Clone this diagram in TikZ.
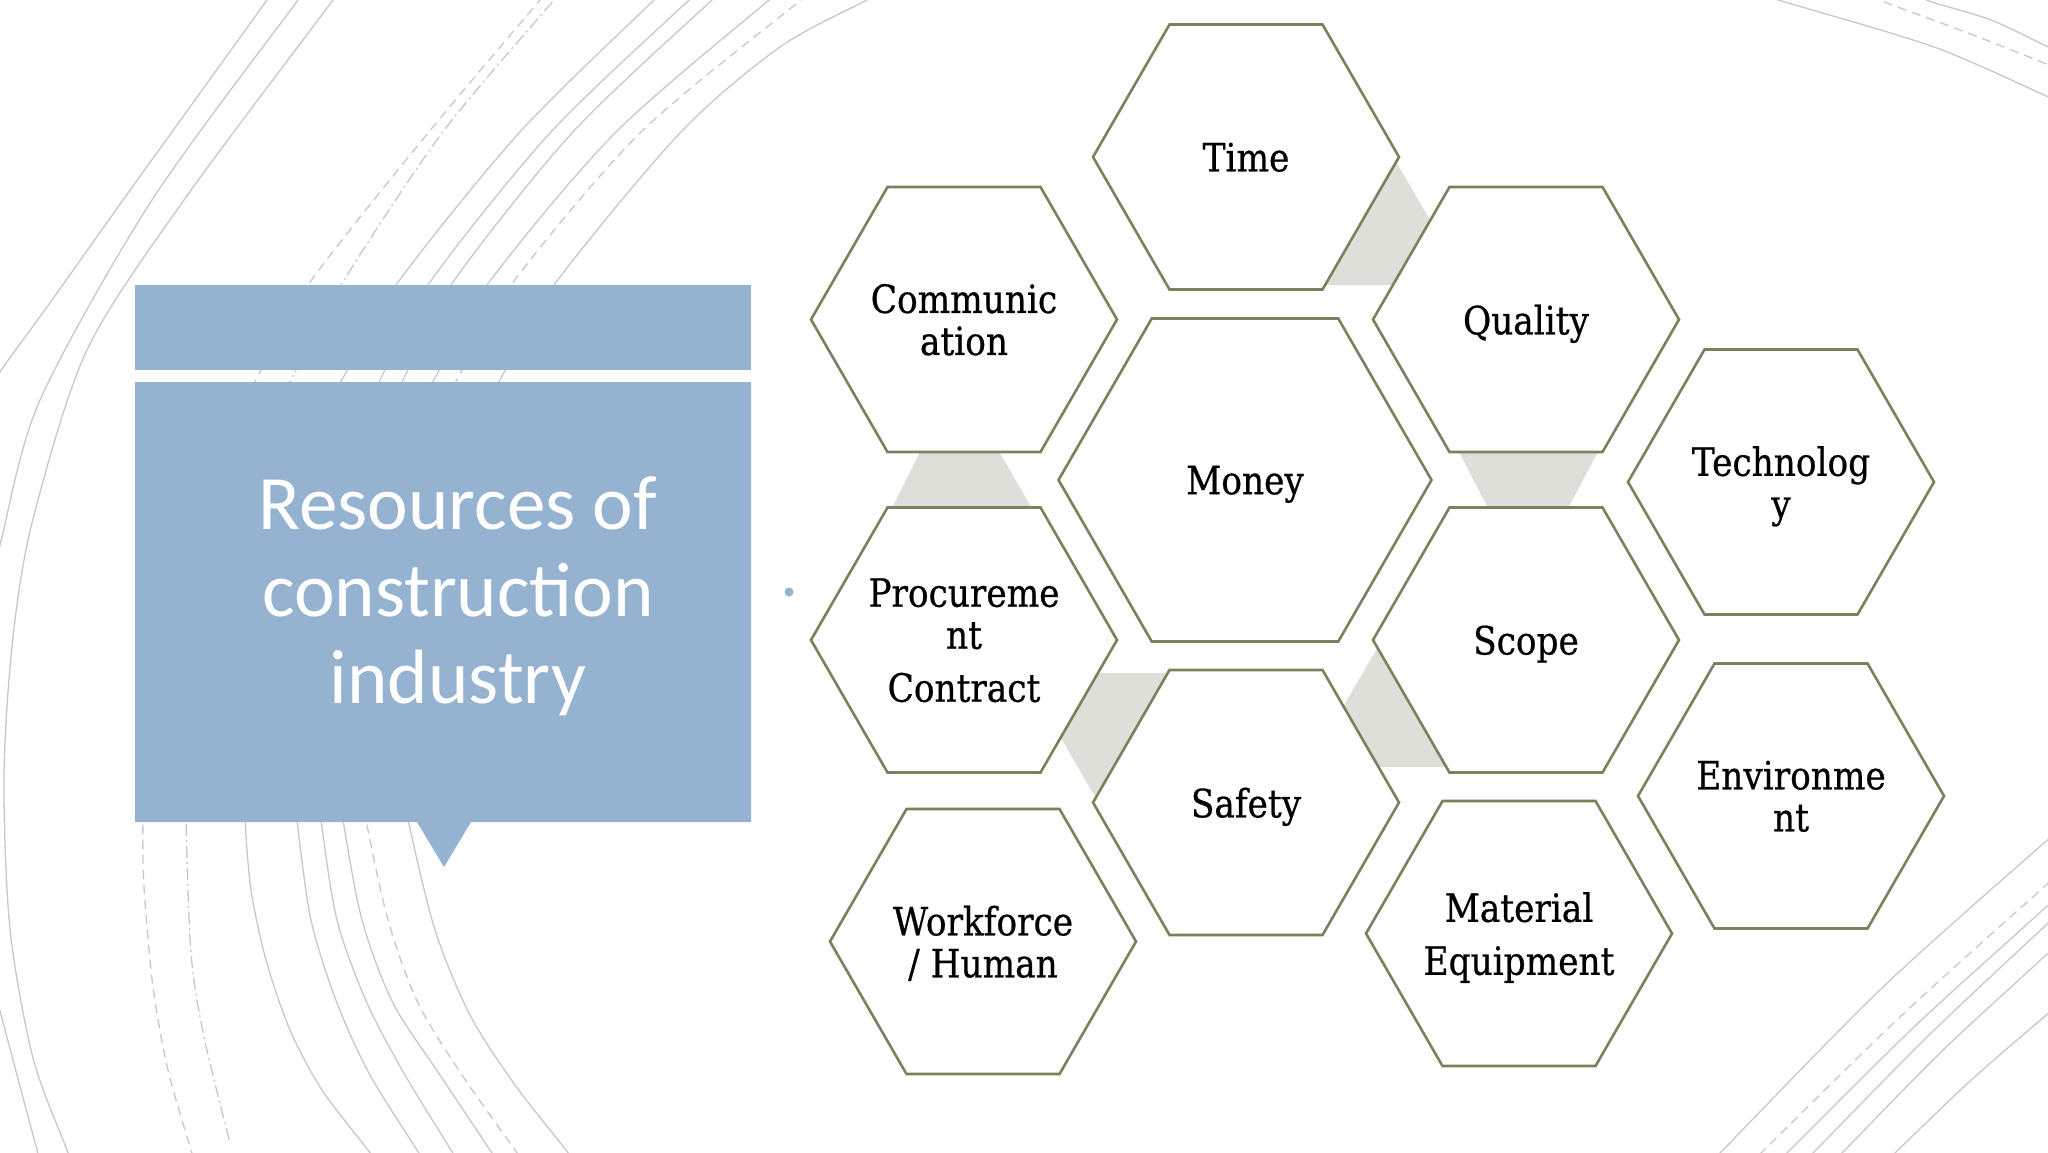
\documentclass[tikz,border=0pt]{standalone}
\usepackage{fontspec}
\newfontfamily\hexfont[FakeStretch=0.88,FakeBold=0.6]{DejaVu Serif}
\newfontfamily\titlefont{Carlito}
\usetikzlibrary{shapes.geometric}
\definecolor{panelblue}{RGB}{149,179,209}
\definecolor{hexline}{RGB}{127,127,95}
\definecolor{linkgray}{RGB}{222,223,216}
\definecolor{wisp}{RGB}{200,200,200}
\tikzset{
  hexsmall/.style={regular polygon, regular polygon sides=6, minimum size=306pt,
    inner sep=0pt, outer sep=0pt, draw=hexline, line width=2.6pt, fill=white},
  hexbig/.style={hexsmall, minimum size=373pt},
  hextext/.style={font=\hexfont\fontsize{39}{42}\selectfont, align=center,
    inner sep=0pt, text depth=0pt},
  wispline/.style={draw=wisp, line width=1.3pt},
  wispdash/.style={wispline, dash pattern=on 9pt off 6pt},
  wispdashdot/.style={wispline, dash pattern=on 12pt off 4pt on 2pt off 4pt},
  linkshape/.style={fill=linkgray, draw=none},
  titletext/.style={text=white, font=\titlefont\fontsize{77}{87}\selectfont, inner sep=0pt},
  panel/.style={fill=panelblue, draw=none}
}
\begin{document}
\begin{tikzpicture}[x=1pt,y=-1pt]
\useasboundingbox (0,0) rectangle (2048,1152);
\clip (0,0) rectangle (2048,1152);
\fill[white] (0,0) rectangle (2048,1152);

% ---- background wisps, left
\draw[wispline] plot[smooth] coordinates {(275,-12) (267,0) (195,100) (123,200) (52,300) (0,372) (-10,395)};
\draw[wispline] plot[smooth] coordinates {(306,-12) (298,0) (152,200) (40,400) (2,537) (-5,570)};
\draw[wispline] plot[smooth] coordinates {(341,-12) (333,0) (184,200) (87,350) (33,519) (13,637) (4,776) (10,929) (33,1058) (67,1150) (72,1165)};
\draw[wispline] plot[smooth] coordinates {(-6,985) (0,1011) (37,1150) (40,1162)};
% top pieces
\draw[wispdash]    plot[smooth] coordinates {(548,-10) (540,0) (428,133) (308,285) (258,376) (236,420)};
\draw[wispdashdot] plot[smooth] coordinates {(562,-10) (554,0) (442,133) (341,285) (293,376) (270,420)};
\draw[wispline]    plot[smooth] coordinates {(665,-10) (654,0) (519,133) (396,285) (344,376) (320,420)};
\draw[wispline]    plot[smooth] coordinates {(700,-10) (689,0) (550,133) (428,285) (382,376) (360,420)};
\draw[wispline]    plot[smooth] coordinates {(724,-10) (712,0) (572,133) (451,285) (405,376) (382,420)};
\draw[wispline]    plot[smooth] coordinates {(782,-10) (769,0) (615,133) (487,285) (436,376) (412,420)};
\draw[wispdash]    plot[smooth] coordinates {(815,-10) (801,0) (640,133) (511,285) (459,376) (435,420)};
\draw[wispline]    plot[smooth] coordinates {(885,-10) (867,0) (780,47) (680,133) (554,285) (502,376) (478,420)};
% bottom pieces
\draw[wispdash]    plot[smooth] coordinates {(146,780) (143,820) (144,887) (153,987) (168,1070) (191,1150) (194,1160)};
\draw[wispdashdot] plot[smooth] coordinates {(187,780) (186,820) (191,953) (204,1037) (230,1143)};
\draw[wispline]    plot[smooth] coordinates {(244,780) (245,820) (251,890) (266,960) (290,1030) (322,1090) (368,1150) (374,1160)};
\draw[wispline]    plot[smooth] coordinates {(294,780) (297,820) (311,920) (337,1003) (370,1075) (417,1150) (423,1160)};
\draw[wispline]    plot[smooth] coordinates {(317,780) (321,820) (337,920) (367,1003) (405,1075) (451,1150) (457,1160)};
\draw[wispline]    plot[smooth] coordinates {(338,780) (343,820) (362,920) (393,1003) (440,1075) (490,1150) (496,1160)};
\draw[wispdash]    plot[smooth] coordinates {(361,780) (366,820) (388,920) (418,1003) (462,1075) (515,1150) (521,1160)};
\draw[wispline]    plot[smooth] coordinates {(401,780) (408,820) (435,930) (470,1015) (515,1085) (566,1150) (572,1160)};
% ---- background wisps, right
\draw[wispline] plot[smooth] coordinates {(1760,-6) (1785,2) (1934,47) (2044,95) (2060,103)};
\draw[wispdash] plot[smooth] coordinates {(1870,-4) (1884,2) (1968,33) (2044,63) (2060,70)};
\draw[wispline] plot[smooth] coordinates {(1920,-4) (1932,2) (1991,20) (2044,45) (2060,53)};
\draw[wispline] plot[smooth] coordinates {(2060,829) (2045,842) (1883,987) (1722,1151) (1712,1162)};
\draw[wispdash] plot[smooth] coordinates {(2060,873) (2044,887) (1901,1016) (1763,1151) (1752,1162)};
\draw[wispline] plot[smooth] coordinates {(2060,895) (2044,909) (1914,1027) (1789,1151) (1778,1162)};
\draw[wispline] plot[smooth] coordinates {(2060,914) (2044,927) (1927,1037) (1815,1151) (1804,1162)};
\draw[wispline] plot[smooth] coordinates {(2060,944) (2044,957) (1941,1052) (1844,1151) (1833,1162)};
\draw[wispline] plot[smooth] coordinates {(2060,1005) (2044,1017) (1969,1082) (1897,1151) (1885,1162)};

% ---- title panel
\fill[panel] (135,285) rectangle (751,370);
\fill[panel] (135,382) -- (751,382) -- (751,822) -- (471,822) -- (444,867) -- (417,822) -- (135,822) -- cycle;
\node[titletext, anchor=base] (title1) at (458,529) {Resources of};
\node[titletext, anchor=base] (title2) at (458,616) {construction};
\node[titletext, anchor=base] (title3) at (458,703) {industry};
\fill[panelblue] (789,592) circle (4.5);

% ---- grey links between hexagons (behind)
\path[linkshape] (1340,160) -- (1395,160) -- (1468,285) -- (1290,285) -- cycle;
\path[linkshape] (921,450) -- (998,450) -- (1033,510) -- (891,510) -- cycle;
\path[linkshape] (1458,450) -- (1599,450) -- (1567,510) -- (1489,510) -- cycle;
\path[linkshape] (1023,673) -- (1176,673) -- (1160,800) -- (1097,800) -- cycle;
\path[linkshape] (1379,645) -- (1440,645) -- (1470,767) -- (1308,767) -- cycle;

% ---- hexagons
\node[hexsmall] (time)    at (1246,157)   {};
\node[hexsmall] (comm)    at (964,319.5)  {};
\node[hexbig]   (money)   at (1245,480)   {};
\node[hexsmall] (quality) at (1526,319.5) {};
\node[hexsmall] (tech)    at (1781,482)   {};
\node[hexsmall] (proc)    at (964,640)    {};
\node[hexsmall] (scope)   at (1526,640)   {};
\node[hexsmall] (safety)  at (1246,802.5) {};
\node[hexsmall] (env)     at (1791,796)   {};
\node[hexsmall] (work)    at (983,941.5)  {};
\node[hexsmall] (mat)     at (1519,933.5) {};
% ---- hexagon labels
\node[hextext] (timeL)    at (time)    {Time};
\node[hextext] (commL)    at (comm)    {Communic\\ation};
\node[hextext] (moneyL)   at (money)   {Money};
\node[hextext] (qualityL) at (quality) {Quality};
\node[hextext] (techL)    at (tech)    {Technolog\\y};
\node[hextext] (procL)    at (proc)    {Procureme\\nt\\[11pt]Contract};
\node[hextext] (scopeL)   at (scope)   {Scope};
\node[hextext] (safetyL)  at (safety)  {Safety};
\node[hextext] (envL)     at (env)     {Environme\\nt};
\node[hextext] (workL)    at (work)    {Workforce\\/ Human};
\node[hextext] (matL)     at (mat)     {Material\\[11pt]Equipment};
\end{tikzpicture}
\end{document}
